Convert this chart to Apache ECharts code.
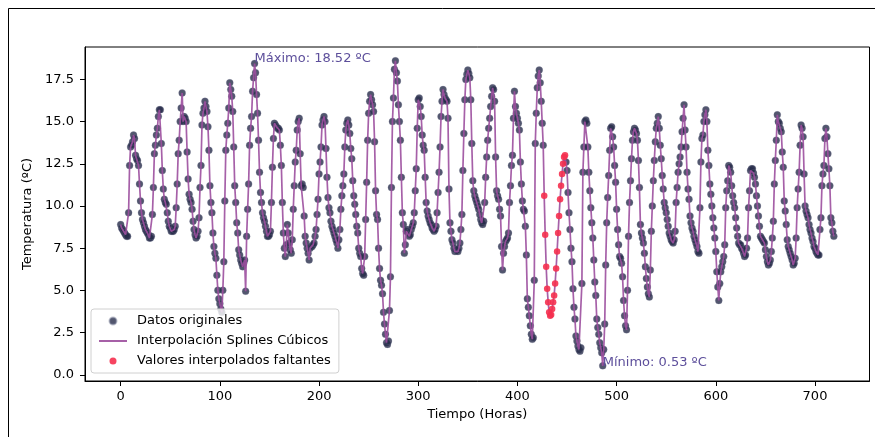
<!DOCTYPE html>
<html>
<head>
<meta charset="utf-8">
<script src="https://cdn.jsdelivr.net/npm/echarts@6/dist/echarts.min.js"></script>
<style>
  html, body { margin: 0; padding: 0; background: #fff; }
  #chart { width: 875px; height: 437px; }
</style>
</head>
<body>
<div id="chart"></div>
<script>
// temperatura horaria (ºC), null = dato faltante
const temperatura = [
  8.9,8.7,8.6,8.5,8.4,8.3,8.2,8.2,9.6,12.4,13.5,13.6,13.8,14.2,14.0,13.0,12.8,12.7,12.4,11.3,10.3,9.6,9.2,9.0,
  8.8,8.6,8.5,8.4,8.3,8.1,8.1,8.2,9.5,11.1,13.1,13.6,14.2,14.6,15.3,15.7,15.7,13.7,12.1,11.0,10.4,10.2,10.1,9.6,
  9.1,8.8,8.7,8.5,8.5,8.5,8.6,8.8,9.9,11.3,13.1,13.9,15.0,15.8,16.7,15.0,15.3,15.2,15.0,13.2,11.6,10.7,10.4,10.2,
  9.8,9.1,8.6,8.3,8.1,8.2,8.5,9.3,11.1,12.4,14.8,15.5,15.8,16.2,15.9,15.6,14.7,13.3,11.2,10.2,9.6,8.4,7.6,7.2,
  6.9,5.9,5.0,4.5,4.2,3.9,3.7,5.0,6.7,10.3,13.3,14.2,14.9,15.8,17.3,16.9,16.5,15.6,13.5,11.2,10.2,9.0,8.4,7.4,
  7.1,6.8,6.6,6.4,6.6,6.8,4.95,8.2,9.8,11.3,13.6,14.6,15.3,16.8,17.6,18.44,17.9,16.6,15.5,13.9,12.0,10.8,10.2,9.6,
  9.3,9.1,8.8,8.5,8.2,8.2,8.3,8.5,10.2,12.3,14.0,14.9,14.8,14.7,14.6,14.6,14.5,13.6,12.4,10.2,8.4,7.5,7.0,7.7,
  8.9,8.4,7.8,7.4,7.2,8.0,9.8,11.2,12.6,13.3,14.5,15.0,15.2,13.1,11.2,11.3,11.1,9.4,8.2,7.8,7.5,7.2,6.8,7.5,
  7.6,7.6,7.7,7.8,8.2,8.6,9.5,10.4,11.9,12.6,13.5,14.8,15.1,15.3,15.0,13.4,11.7,10.5,9.9,9.6,9.1,8.8,8.6,8.4,
  8.2,8.0,7.8,7.5,8.0,8.6,9.8,10.6,11.2,11.9,13.5,14.5,14.9,15.1,14.8,14.3,13.4,12.8,11.5,10.6,10.1,9.5,8.8,8.4,
  7.5,7.2,7.0,6.3,6.0,5.9,7.0,9.2,11.4,13.9,15.5,16.2,16.6,16.3,16.0,15.6,13.8,10.9,9.5,9.2,7.5,6.3,5.6,5.3,
  4.8,3.7,3.0,2.4,1.9,1.8,2.0,3.8,5.8,11.1,15.0,16.4,18.1,18.6,17.9,17.4,16.0,15.0,13.9,11.7,9.6,8.9,7.2,7.7,
  8.5,8.6,8.4,8.2,8.3,8.6,8.8,9.0,9.6,10.9,12.2,14.6,16.3,16.4,15.9,15.3,14.2,13.6,13.3,11.7,10.2,9.7,9.4,9.2,
  9.0,8.9,8.7,8.6,8.5,8.6,8.8,9.6,10.8,12.0,13.5,15.3,16.2,16.9,16.6,16.4,16.3,16.2,15.2,11.0,9.0,8.5,8.0,7.8,
  7.5,7.3,7.4,7.4,7.3,7.5,7.8,8.6,9.5,12.1,14.3,16.3,17.5,17.8,18.05,17.85,17.6,16.3,13.7,11.5,10.9,10.6,10.4,10.2,
  10.0,9.8,9.5,9.2,9.0,8.9,9.1,10.2,11.7,12.9,13.9,14.6,15.2,15.9,16.5,17.0,16.9,16.2,12.9,10.9,10.6,10.4,9.8,9.4,
  7.6,6.2,7.2,7.6,7.9,8.0,8.1,8.4,10.2,11.2,12.4,13.0,15.2,16.8,15.9,15.5,15.2,14.9,14.5,12.6,11.3,10.3,9.8,9.7,
  8.8,7.1,4.5,4.0,3.5,2.9,2.4,2.1,2.2,5.6,13.7,15.5,17.0,17.7,18.05,17.3,16.2,14.9,13.6,null,null,null,null,null,
  null,null,null,null,null,null,null,null,null,null,null,null,null,null,null,null,null,12.6,12.1,10.8,9.6,8.6,7.5,6.7,
  5.1,4.0,3.3,2.3,2.0,1.7,1.5,1.4,1.6,5.4,12.0,13.5,15.0,15.1,14.9,13.5,12.0,10.9,9.9,9.0,8.1,6.8,5.5,4.7,
  3.3,2.8,2.4,1.9,1.6,1.3,0.53,1.5,3.0,6.5,9.0,10.5,11.8,13.3,14.6,14.7,14.1,13.5,12.4,11.4,9.8,8.6,7.7,7.0,
  6.9,6.6,5.8,4.4,3.5,2.9,2.66,5.0,8.2,10.2,11.5,12.8,13.9,14.4,14.6,14.5,14.3,13.9,12.7,11.1,8.9,8.4,8.1,7.8,
  7.2,6.4,5.7,5.2,4.8,4.6,6.2,8.5,10.0,11.5,12.7,13.8,14.6,14.9,15.3,14.6,13.6,12.8,11.8,11.0,10.2,9.9,9.6,9.2,
  8.8,8.4,8.2,8.0,7.9,7.8,8.0,8.5,10.2,11.1,12.0,12.5,12.9,13.5,14.4,15.2,16.0,14.5,13.5,12.0,11.0,10.4,9.4,9.0,
  8.7,8.5,8.2,8.0,7.8,7.6,7.3,7.2,9.9,12.6,14.0,14.2,15.0,15.4,15.7,15.0,13.3,12.4,11.3,10.7,10.0,9.3,8.7,8.1,
  7.3,6.1,5.2,4.4,5.4,6.1,6.4,6.7,7.0,7.7,9.9,10.9,11.5,12.4,12.3,12.0,11.2,10.6,10.2,9.9,9.3,8.7,8.2,7.8,
  7.7,7.7,7.5,7.4,7.2,7.0,7.1,7.5,8.1,9.9,10.9,12.1,12.2,12.2,11.95,11.7,11.3,10.6,10.0,9.4,8.8,8.2,8.1,8.0,
  7.9,7.8,7.4,7.0,6.7,6.5,6.6,6.8,7.3,8.1,9.1,11.3,12.7,13.9,15.4,15.0,14.9,14.6,14.4,13.2,12.3,10.3,9.7,8.9,
  8.0,7.6,7.4,7.2,7.0,6.8,6.5,6.6,6.9,8.1,9.9,11.0,12.0,13.6,14.8,14.6,14.1,11.9,10.0,9.7,9.5,9.3,8.9,8.6,
  8.4,8.1,7.9,7.6,7.5,7.3,7.2,7.1,7.1,8.6,9.3,11.2,11.9,12.4,14.0,14.6,14.1,13.1,12.2,11.2,9.3,9.0,8.5,8.2
];

// valores interpolados para las horas faltantes
const inicioFaltantes = 427;
const faltantes = [10.6,8.3,6.4,5.1,4.3,3.7,3.5,3.55,3.9,4.3,4.7,5.4,6.3,7.3,8.4,9.4,10.4,11.2,11.9,12.5,12.9,13.0];

const ticksX = [0, 100, 200, 300, 400, 500, 600, 700];
const ticksY = [0, 2.5, 5, 7.5, 10, 12.5, 15, 17.5];

const maximo = { hora: 135, valor: 18.52 };
const minimo = { hora: 486, valor: 0.53 };

const originales = [];
const spline = [];
temperatura.forEach((v, i) => {
  if (v !== null) originales.push([i, v]);
  const s = v !== null ? v : faltantes[i - inicioFaltantes];
  spline.push([i, s]);
});
const interpolados = faltantes.map((v, k) => [inicioFaltantes + k, v]);

const font = 'DejaVu Sans';
const fs = 13;
const chart = echarts.init(document.getElementById('chart'), null, { renderer: 'canvas' });

chart.setOption({
  animation: false,
  backgroundColor: '#fff',
  textStyle: { fontFamily: font },
  grid: {
    left: 85, right: 5.5, top: 47, bottom: 56,
    show: true, borderColor: '#000', borderWidth: 1
  },
  xAxis: {
    type: 'value',
    min: -35.95, max: 754.95,
    name: 'Tiempo (Horas)',
    nameLocation: 'middle',
    nameGap: 27,
    nameTextStyle: { color: '#000', fontSize: fs, fontFamily: font },
    axisLine: { show: true, onZero: false, lineStyle: { color: '#000', width: 1 } },
    axisTick: { show: true, length: 5, customValues: ticksX, lineStyle: { color: '#000' } },
    axisLabel: { customValues: ticksX, color: '#000', fontSize: fs, margin: 9, fontFamily: font },
    splitLine: { show: false }
  },
  yAxis: {
    type: 'value',
    min: -0.37, max: 19.42,
    name: 'Temperatura (ºC)',
    nameLocation: 'middle',
    nameGap: 46,
    nameTextStyle: { color: '#000', fontSize: fs, fontFamily: font },
    axisLine: { show: true, onZero: false, lineStyle: { color: '#000', width: 1 } },
    axisTick: { show: true, length: 5, customValues: ticksY, lineStyle: { color: '#000' } },
    axisLabel: {
      customValues: ticksY, color: '#000', fontSize: fs, margin: 11, fontFamily: font,
      formatter: v => v.toFixed(1)
    },
    splitLine: { show: false }
  },
  legend: {
    orient: 'vertical',
    left: 91, top: 309,
    padding: [5, 8],
    itemGap: 6,
    itemWidth: 28, itemHeight: 7,
    backgroundColor: 'rgba(255,255,255,0.8)',
    borderColor: '#d0d0d0', borderWidth: 1, borderRadius: 3,
    textStyle: { color: '#000', fontSize: fs, fontFamily: font, lineHeight: 14, padding: [0, 0, 0, 5] },
    data: [
      { name: 'Datos originales', icon: 'circle' },
      { name: 'Interpolación Splines Cúbicos', icon: 'path://M0,0 L28,0 L28,1.8 L0,1.8 Z' },
      { name: 'Valores interpolados faltantes', icon: 'circle' }
    ]
  },
  series: [
    {
      name: 'Datos originales',
      type: 'scatter',
      data: originales,
      symbolSize: 7,
      z: 2,
      itemStyle: { color: '#272c4a', borderColor: 'rgba(120,125,150,0.6)', borderWidth: 0.5 }
    },
    {
      name: 'Interpolación Splines Cúbicos',
      type: 'line',
      data: spline,
      showSymbol: false,
      z: 3,
      lineStyle: { color: '#9c4f9e', width: 1.7, opacity: 0.9 },
      itemStyle: { color: '#9c4f9e' }
    },
    {
      name: 'Valores interpolados faltantes',
      type: 'scatter',
      data: interpolados,
      symbolSize: 6.5,
      z: 4,
      itemStyle: { color: '#f5304f', opacity: 0.9 }
    }
  ]
});

// anotaciones de máximo y mínimo, situadas con las escalas del gráfico
const pMax = chart.convertToPixel({ gridIndex: 0 }, [maximo.hora, maximo.valor]);
const pMin = chart.convertToPixel({ gridIndex: 0 }, [minimo.hora, minimo.valor]);
const colorNota = '#5d4f9b';
chart.setOption({
  graphic: [
    {
      type: 'rect', silent: true, z: 100,
      shape: { x: 8.5, y: 8.5, width: 900, height: 900 },
      style: { fill: 'none', stroke: '#000', lineWidth: 1 }
    },
    {
      type: 'text', x: pMax[0], y: pMax[1] + 3, z: 100,
      style: { text: 'Máximo: ' + maximo.valor.toFixed(2) + ' ºC', fill: colorNota, font: fs + 'px "DejaVu Sans"', textAlign: 'left', textVerticalAlign: 'bottom' }
    },
    {
      type: 'text', x: pMin[0], y: pMin[1] + 3, z: 100,
      style: { text: 'Mínimo: ' + minimo.valor.toFixed(2) + ' ºC', fill: colorNota, font: fs + 'px "DejaVu Sans"', textAlign: 'left', textVerticalAlign: 'bottom' }
    }
  ]
});
</script>
</body>
</html>
